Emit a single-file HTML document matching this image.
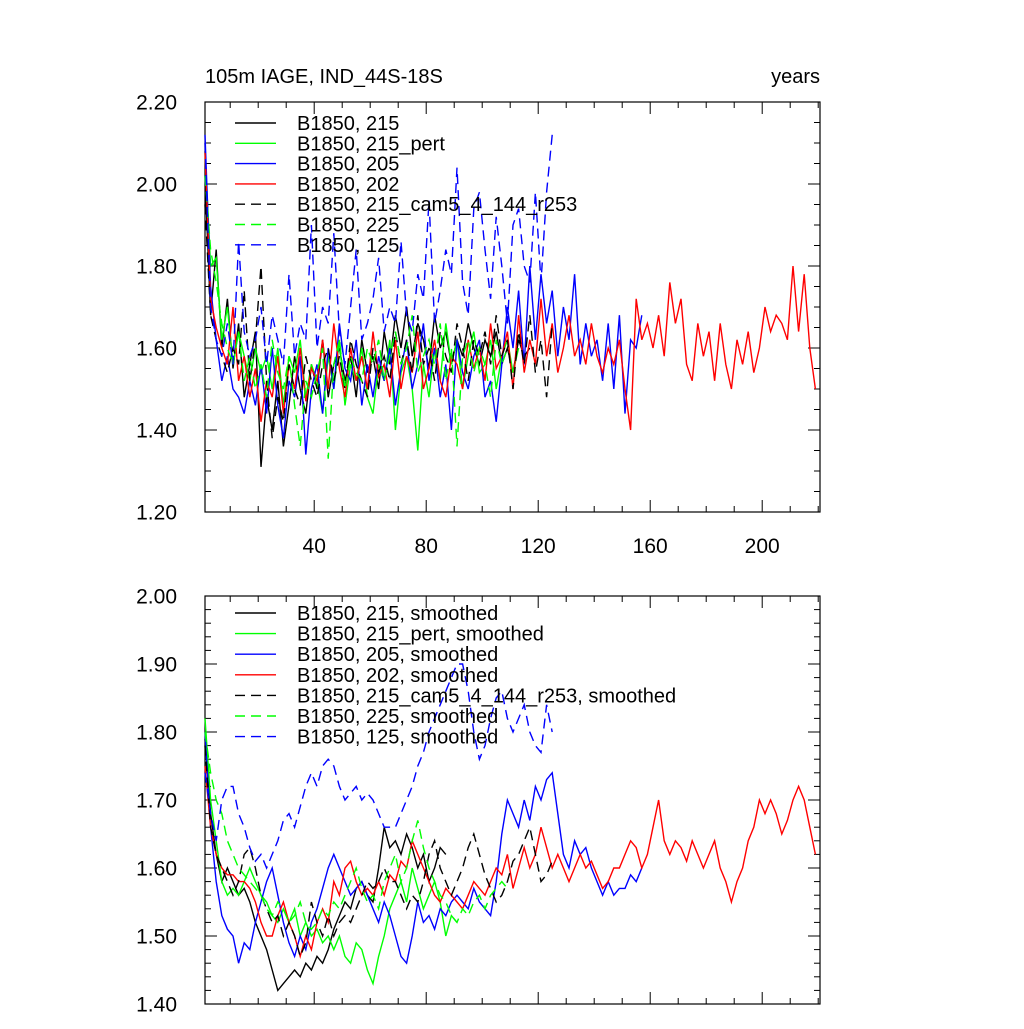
<!DOCTYPE html>
<html><head><meta charset="utf-8"><style>
body{margin:0;background:#fff}
svg text{font-family:"Liberation Sans",sans-serif;fill:#000}
</style></head><body>
<svg id="chart" width="1024" height="1024" viewBox="0 0 1024 1024" xmlns="http://www.w3.org/2000/svg">
<rect width="1024" height="1024" fill="#fff"/>
<text x="205" y="83" font-size="20">105m IAGE, IND_44S-18S</text>
<text x="820" y="83" font-size="20" text-anchor="end">years</text>
<g id="top"></g><g id="bot"></g>
</svg>
<script>
// ---- data (values sampled every 2 years starting at year 1) ----
const xTicks=[40,80,120,160,200];
const topYTicks=["1.20","1.40","1.60","1.80","2.00","2.20"];
const botYTicks=["1.40","1.50","1.60","1.70","1.80","1.90","2.00"];
const topNames=["B1850, 215","B1850, 215_pert","B1850, 205","B1850, 202","B1850, 215_cam5_4_144_r253","B1850, 225","B1850, 125"];
const botNames=["B1850, 215, smoothed","B1850, 215_pert, smoothed","B1850, 205, smoothed","B1850, 202, smoothed","B1850, 215_cam5_4_144_r253, smoothed","B1850, 225, smoothed","B1850, 125, smoothed"];
const top215=[2.02,1.68,1.84,1.60,1.72,1.55,1.66,1.48,1.56,1.64,1.31,1.48,1.40,1.52,1.36,1.46,1.58,1.50,1.44,1.56,1.50,1.62,1.48,1.56,1.60,1.52,1.58,1.48,1.62,1.54,1.58,1.50,1.64,1.56,1.68,1.60,1.70,1.58,1.66,1.62,1.55,1.68,1.60,1.64,1.56,1.62,1.58,1.66,1.60,1.56,1.62,1.58,1.64,1.56,1.60,1.54,1.62,1.58,1.60];
const top215pert=[2.08,1.80,1.82,1.62,1.70,1.56,1.64,1.58,1.52,1.60,1.54,1.58,1.50,1.60,1.46,1.58,1.54,1.62,1.48,1.56,1.52,1.44,1.58,1.50,1.62,1.46,1.56,1.52,1.60,1.48,1.44,1.56,1.52,1.62,1.40,1.54,1.58,1.50,1.35,1.56,1.48,1.60,1.52,1.66,1.56,1.62,1.50,1.58,1.64,1.54,1.56,1.62,1.50,1.58,1.62,1.54,1.60];
const top205=[2.12,1.75,1.62,1.52,1.58,1.50,1.48,1.44,1.52,1.46,1.56,1.44,1.60,1.46,1.38,1.52,1.48,1.58,1.34,1.50,1.56,1.44,1.60,1.50,1.66,1.55,1.52,1.62,1.46,1.56,1.48,1.58,1.52,1.60,1.46,1.55,1.62,1.50,1.56,1.66,1.52,1.60,1.48,1.56,1.40,1.62,1.54,1.50,1.58,1.62,1.48,1.52,1.42,1.56,1.70,1.60,1.74,1.56,1.80,1.62,1.78,1.66,1.74,1.58,1.70,1.62,1.78,1.56,1.66,1.58,1.62,1.52,1.66,1.50,1.68,1.44,1.62,1.60,1.68];
const top202=[2.08,1.72,1.65,1.60,1.56,1.70,1.52,1.58,1.48,1.55,1.42,1.52,1.48,1.58,1.44,1.56,1.50,1.60,1.47,1.55,1.52,1.62,1.50,1.66,1.55,1.48,1.60,1.52,1.58,1.50,1.64,1.53,1.56,1.48,1.62,1.50,1.58,1.54,1.64,1.50,1.55,1.62,1.52,1.48,1.58,1.56,1.50,1.62,1.55,1.60,1.52,1.66,1.55,1.58,1.64,1.50,1.68,1.54,1.62,1.56,1.72,1.58,1.66,1.54,1.60,1.68,1.58,1.62,1.56,1.66,1.58,1.54,1.60,1.56,1.62,1.50,1.40,1.72,1.62,1.66,1.60,1.68,1.58,1.76,1.66,1.72,1.56,1.52,1.66,1.58,1.64,1.52,1.66,1.56,1.50,1.62,1.56,1.64,1.54,1.60,1.70,1.64,1.68,1.66,1.62,1.80,1.64,1.78,1.60,1.50];
const topCam5=[1.95,1.68,1.62,1.58,1.54,1.60,1.56,1.74,1.52,1.62,1.80,1.52,1.38,1.48,1.42,1.56,1.50,1.46,1.58,1.52,1.48,1.56,1.60,1.52,1.58,1.50,1.62,1.56,1.52,1.48,1.60,1.54,1.58,1.52,1.64,1.56,1.62,1.54,1.68,1.56,1.60,1.52,1.64,1.58,1.54,1.66,1.60,1.52,1.62,1.58,1.64,1.56,1.68,1.58,1.62,1.50,1.64,1.56,1.68,1.54,1.62,1.48,1.66];
const top225=[2.02,1.84,1.76,1.66,1.60,1.56,1.64,1.52,1.58,1.50,1.56,1.48,1.62,1.54,1.50,1.58,1.46,1.36,1.52,1.48,1.54,1.60,1.33,1.56,1.62,1.50,1.58,1.54,1.52,1.60,1.56,1.62,1.52,1.58,1.64,1.56,1.60,1.68,1.54,1.58,1.62,1.56,1.66,1.52,1.60,1.36,1.58,1.62,1.54,1.60,1.56,1.48,1.62,1.56,1.60];
const top125=[2.10,1.70,1.62,1.58,1.66,1.56,1.86,1.64,1.58,1.62,1.70,1.56,1.68,1.62,1.56,1.78,1.58,1.66,1.62,1.90,1.60,1.70,1.66,1.88,1.64,1.56,1.70,1.84,1.62,1.66,1.72,1.82,1.64,1.70,1.66,1.86,1.68,1.64,1.78,1.72,1.96,1.66,1.74,1.84,1.78,2.04,1.76,1.68,1.94,1.98,1.84,1.72,1.92,1.80,1.66,1.90,1.94,1.80,1.76,1.98,1.76,1.98,2.12];
const bot215=[1.79,1.68,1.62,1.58,1.60,1.58,1.56,1.57,1.55,1.52,1.50,1.48,1.45,1.42,1.43,1.44,1.45,1.44,1.46,1.45,1.47,1.46,1.48,1.51,1.53,1.55,1.54,1.57,1.58,1.56,1.55,1.60,1.66,1.63,1.64,1.62,1.65,1.63,1.60,1.62,1.58,1.60,1.63,1.62];
const bot215pert=[1.82,1.70,1.64,1.58,1.56,1.57,1.56,1.58,1.60,1.58,1.56,1.55,1.53,1.52,1.54,1.52,1.54,1.50,1.52,1.50,1.51,1.49,1.50,1.48,1.50,1.47,1.46,1.49,1.48,1.45,1.43,1.47,1.50,1.54,1.56,1.58,1.55,1.60,1.57,1.54,1.56,1.58,1.55,1.50,1.53,1.52];
const bot205=[1.80,1.66,1.58,1.53,1.51,1.50,1.46,1.49,1.48,1.52,1.55,1.58,1.60,1.56,1.52,1.49,1.47,1.50,1.48,1.52,1.54,1.57,1.60,1.62,1.60,1.58,1.56,1.57,1.58,1.56,1.54,1.52,1.55,1.53,1.50,1.47,1.46,1.50,1.55,1.52,1.53,1.51,1.54,1.53,1.55,1.56,1.55,1.54,1.57,1.55,1.54,1.53,1.58,1.65,1.70,1.68,1.66,1.70,1.67,1.72,1.70,1.73,1.74,1.68,1.62,1.60,1.64,1.62,1.63,1.60,1.58,1.56,1.58,1.56,1.57,1.57,1.59,1.58,1.60];
const bot202=[1.75,1.66,1.62,1.60,1.59,1.59,1.58,1.58,1.57,1.55,1.52,1.50,1.50,1.53,1.55,1.52,1.50,1.47,1.50,1.48,1.52,1.54,1.52,1.58,1.56,1.60,1.61,1.58,1.56,1.57,1.56,1.58,1.56,1.59,1.58,1.61,1.60,1.64,1.62,1.60,1.58,1.56,1.55,1.57,1.56,1.55,1.54,1.56,1.58,1.57,1.56,1.58,1.60,1.59,1.62,1.57,1.60,1.63,1.60,1.62,1.66,1.63,1.60,1.62,1.60,1.58,1.60,1.62,1.60,1.61,1.59,1.57,1.58,1.60,1.60,1.62,1.64,1.63,1.60,1.62,1.66,1.70,1.64,1.62,1.64,1.63,1.61,1.64,1.62,1.60,1.62,1.64,1.60,1.58,1.55,1.58,1.60,1.64,1.66,1.70,1.68,1.70,1.68,1.65,1.67,1.70,1.72,1.70,1.66,1.62];
const botCam5=[1.78,1.66,1.62,1.60,1.58,1.56,1.58,1.62,1.63,1.60,1.56,1.54,1.52,1.53,1.50,1.52,1.50,1.47,1.49,1.55,1.52,1.50,1.53,1.50,1.52,1.53,1.52,1.54,1.56,1.58,1.57,1.58,1.60,1.58,1.58,1.56,1.54,1.56,1.55,1.58,1.62,1.64,1.60,1.58,1.56,1.58,1.60,1.63,1.65,1.62,1.59,1.57,1.55,1.56,1.58,1.61,1.62,1.64,1.66,1.62,1.58,1.59,1.61];
const bot225=[1.80,1.74,1.70,1.68,1.64,1.62,1.60,1.59,1.58,1.57,1.56,1.54,1.53,1.55,1.54,1.52,1.53,1.55,1.52,1.51,1.52,1.54,1.53,1.55,1.54,1.56,1.58,1.60,1.57,1.55,1.56,1.54,1.58,1.60,1.62,1.58,1.60,1.64,1.67,1.63,1.60,1.58,1.56,1.55,1.53,1.52,1.54,1.53,1.55,1.56,1.54,1.56,1.57,1.58,1.57];
const bot125=[1.74,1.68,1.64,1.70,1.72,1.72,1.68,1.66,1.63,1.61,1.62,1.60,1.62,1.64,1.67,1.68,1.66,1.69,1.72,1.74,1.72,1.75,1.76,1.75,1.72,1.70,1.71,1.72,1.70,1.71,1.70,1.68,1.66,1.66,1.66,1.68,1.70,1.72,1.75,1.77,1.80,1.82,1.84,1.86,1.88,1.90,1.90,1.86,1.80,1.76,1.78,1.82,1.85,1.86,1.82,1.80,1.82,1.84,1.80,1.78,1.77,1.84,1.80];

const NS="http://www.w3.org/2000/svg";
const X0=205,X1=820,YEAR0=1,PXY=2.8;
function xs(yr){return X0+(yr-YEAR0)*PXY;}
function mk(tag,attrs,parent){const e=document.createElementNS(NS,tag);for(const k in attrs)e.setAttribute(k,attrs[k]);parent.appendChild(e);return e;}
const styles=[["#000",""],["#00ff00",""],["#0000ff",""],["#ff0000",""],["#000","10,6"],["#00ff00","10,6"],["#0000ff","10,6"]];

function panel(gid,Y0,Y1,vmin,vmax,major,minor,yLabels,xLabels,series,names,legY,legDY,pfx){
  const g=document.getElementById(gid);
  const ys=v=>Y1-(v-vmin)/(vmax-vmin)*(Y1-Y0);
  const ax=mk('g',{},g);
  
  
  mk('rect',{x:X0,y:Y0,width:X1-X0,height:Y1-Y0,fill:'none',stroke:'#000','stroke-width':1.2},ax);
  const nMin=Math.round((vmax-vmin)/minor);
  for(let i=0;i<=nMin;i++){const v=vmin+i*minor;const y=ys(v);
    const isMaj=Math.abs(((v-vmin)/major)-Math.round((v-vmin)/major))<1e-6;
    const L=isMaj?12:6;
    mk('line',{x1:X0,x2:X0+L,y1:y,y2:y,stroke:'#000','stroke-width':1},ax);
    mk('line',{x1:X1,x2:X1-L,y1:y,y2:y,stroke:'#000','stroke-width':1},ax);}
  yLabels.forEach(s=>{const t=mk('text',{x:177,y:ys(parseFloat(s))+7.5,'font-size':21,'text-anchor':'end'},ax);t.textContent=s;
    
    });
  for(let yr=10;yr<=220;yr+=10){const x=xs(yr);if(x>X1)break;const L=(yr%40===0)?12:6;
    mk('line',{x1:x,x2:x,y1:Y1,y2:Y1-L,stroke:'#000','stroke-width':1},ax);
    mk('line',{x1:x,x2:x,y1:Y0,y2:Y0+L,stroke:'#000','stroke-width':1},ax);}
  if(xLabels) xTicks.forEach(yr=>{const t=mk('text',{x:xs(yr),y:Y1+41,'font-size':21,'text-anchor':'middle'},ax);t.textContent=yr;
    
    });
  series.forEach((arr,si)=>{const pts=arr.map((v,i)=>xs(YEAR0+2*i).toFixed(1)+','+ys(v).toFixed(1)).join(' ');
    const p=mk('polyline',{points:pts,fill:'none',stroke:styles[si][0],'stroke-width':1.4,'stroke-dasharray':styles[si][1]},g);
    
    });
  names.forEach((n,i)=>{const y=legY+i*legDY;
    const lg=mk('g',{},g);
    
    
    mk('line',{x1:235,x2:276,y1:y,y2:y,stroke:styles[i][0],'stroke-width':1.4,'stroke-dasharray':styles[i][1]},lg);
    const t=mk('text',{x:297,y:y+7,'font-size':20},lg);t.textContent=n;});
}
panel('top',102,512,1.2,2.2,0.2,0.05,topYTicks,true,[top215,top215pert,top205,top202,topCam5,top225,top125],topNames,123,20.3,'top');
panel('bot',596,1004,1.4,2.0,0.1,0.02,botYTicks,false,[bot215,bot215pert,bot205,bot202,botCam5,bot225,bot125],botNames,613,20.6,'bottom');
</script>
</body></html>
